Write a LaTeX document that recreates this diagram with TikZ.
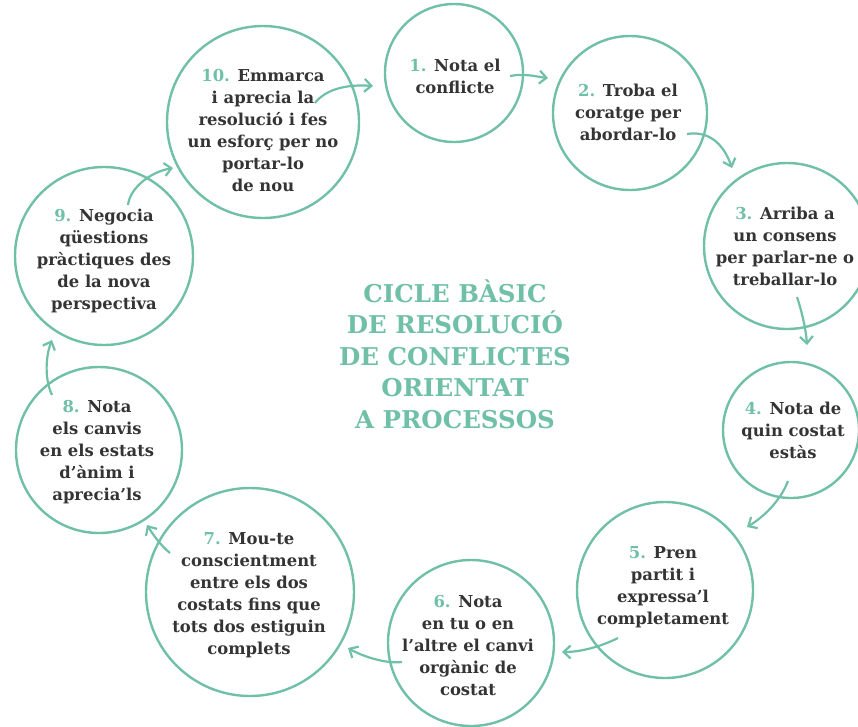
\documentclass[tikz,border=0pt]{standalone}
\usepackage{fontspec}
\setmainfont{DejaVu Serif}
\usetikzlibrary{arrows.meta}
\definecolor{teal1}{RGB}{112,192,168}
\definecolor{ink}{RGB}{52,52,52}
\newcommand\nb[1]{{\color{teal1}#1}}
\begin{document}
\begin{tikzpicture}[x=1pt,y=-1pt,
  ring/.style={circle, draw=teal1, line width=2.4pt, inner sep=0pt},
  lbl/.style={align=center, text=ink, inner sep=0pt, font=\fontsize{16.4}{22}\selectfont\bfseries},
  ttl/.style={align=center, text=teal1, inner sep=0pt, font=\fontsize{24.5}{31.5}\selectfont\bfseries},
  arr/.style={draw=teal1, line width=2.2pt, -{Straight Barb[length=7pt,width=13pt]}}]
\useasboundingbox (0,0) rectangle (858,726);
\fill[white] (0,0) rectangle (858,726);
% circles
\node[ring, minimum size=138pt] (c1) at (454,73) {};
\node[ring, minimum size=154pt] (c2) at (630,113) {};
\node[ring, minimum size=166pt] (c3) at (787,246) {};
\node[ring, minimum size=136pt] (c4) at (791,430) {};
\node[ring, minimum size=176pt] (c5) at (665,590) {};
\node[ring, minimum size=166pt] (c6) at (471,643) {};
\node[ring, minimum size=208pt] (c7) at (250,592) {};
\node[ring, minimum size=166pt] (c8) at (99,450) {};
\node[ring, minimum size=178pt] (c9) at (104,256) {};
\node[ring, minimum size=192pt] (c10) at (263,122) {};
% texts
\node[lbl] (t1) at (455,76) {\nb{1.} Nota el\\conflicte};
\node[lbl] (t2) at (628,112) {\nb{2.} Troba el\\coratge per\\abordar-lo};
\node[lbl] (t3) at (785,246) {\nb{3.} Arriba a\\un consens\\per parlar-ne o\\treballar-lo};
\node[lbl] (t4) at (793,430) {\nb{4.} Nota de\\quin costat\\estàs};
\node[lbl] (t5) at (663,587) {\nb{5.} Pren\\partit i\\expressa’l\\completament};
\node[lbl] (t6) at (468,646) {\nb{6.} Nota\\en tu o en\\l’altre el canvi\\orgànic de\\costat};
\node[lbl] (t7) at (249,595) {\nb{7.} Mou-te\\conscientment\\entre els dos\\costats fins que\\tots dos estiguin\\complets};
\node[lbl] (t8) at (97,452) {\nb{8.} Nota\\els canvis\\en els estats\\d’ànim i\\aprecia’ls};
\node[lbl] (t9) at (104,261) {\nb{9.} Negocia\\qüestions\\pràctiques des\\de la nova\\perspectiva};
\node[lbl] (t10) at (263,131) {\nb{10.} Emmarca\\i aprecia la\\resolució i fes\\un esforç per no\\portar-lo\\de nou};
\node[ttl] (title) at (455,354) {CICLE BÀSIC\\DE RESOLUCIÓ\\DE CONFLICTES\\ORIENTAT\\A PROCESSOS};
% arrow end points
\coordinate (s10) at (315,103); \coordinate (e10) at (373,86);
\coordinate (s1) at (510,76);   \coordinate (e1) at (548,78);
\coordinate (s2) at (687,134);  \coordinate (e2) at (732,168);
\coordinate (s3) at (797,297);  \coordinate (e3) at (807,345);
\coordinate (s4) at (788,481);  \coordinate (e4) at (747,527);
\coordinate (s5) at (618,638);  \coordinate (e5) at (562,652);
\coordinate (s6) at (402,662);  \coordinate (e6) at (348,648);
\coordinate (s7) at (170,553);  \coordinate (e7) at (147,525);
\coordinate (s8) at (52,395);   \coordinate (e8) at (52,340);
\coordinate (s9) at (128,205);  \coordinate (e9) at (173,168);
% arrows
\draw[arr] (s10) .. controls (325,90) and (345,84) .. (e10);
\draw[arr] (s1) .. controls (525,73) and (538,77) .. (e1);
\draw[arr] (s2) .. controls (712,130) and (725,148) .. (e2);
\draw[arr] (s3) .. controls (802,312) and (806,330) .. (e3);
\draw[arr] (s4) .. controls (780,502) and (762,518) .. (e4);
\draw[arr] (s5) .. controls (600,647) and (580,652) .. (e5);
\draw[arr] (s6) .. controls (385,664) and (362,656) .. (e6);
\draw[arr] (s7) .. controls (160,545) and (152,533) .. (e7);
\draw[arr] (s8) .. controls (44,378) and (46,355) .. (e8);
\draw[arr] (s9) .. controls (130,188) and (150,172) .. (e9);
\end{tikzpicture}
\end{document}
